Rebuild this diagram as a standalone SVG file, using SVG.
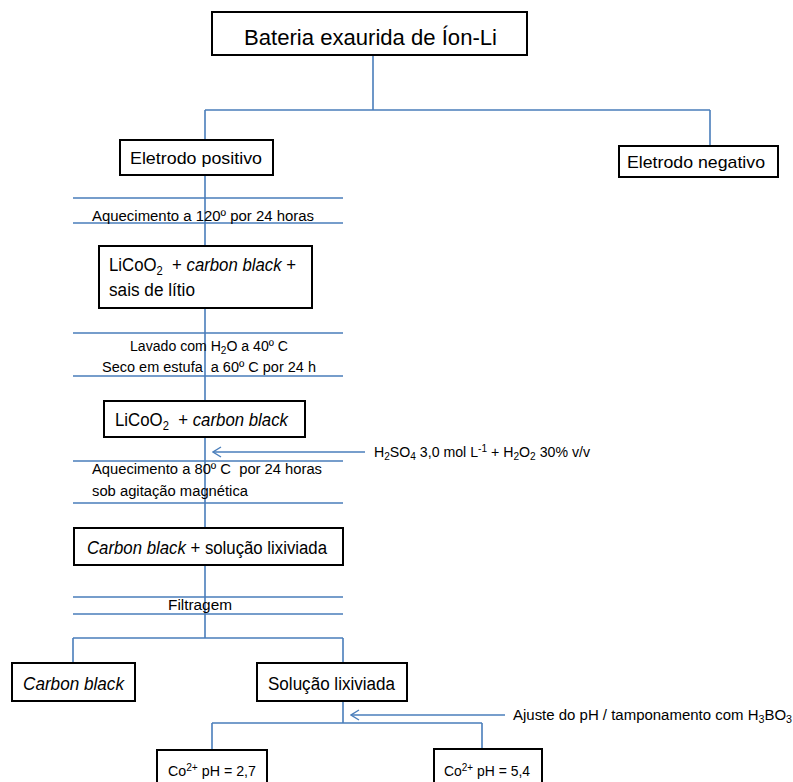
<svg xmlns="http://www.w3.org/2000/svg" width="793" height="782" viewBox="0 0 793 782">
<defs>
<style>
.bg{fill:#fff}
.box{fill:#fff;stroke:#000;stroke-width:2}
.ln{fill:none;stroke:#4a7ebb;stroke-width:1.6}
.t{font-family:"Liberation Sans",Arial,sans-serif;fill:#000}
.big{font-size:22px}
.mid{font-size:17px}
.lg{font-size:18px}
.sm{font-size:14px}
.it{font-style:italic}
</style>
<marker id="arr" viewBox="0 0 10 12" refX="9" refY="6" markerWidth="10" markerHeight="12" markerUnits="userSpaceOnUse" orient="auto">
<path d="M1,1 L9,6 L1,11" fill="none" stroke="#4a7ebb" stroke-width="1.4"/>
</marker>
</defs>
<rect class="bg" x="0" y="0" width="793" height="782"/>

<g id="connectors">
<path class="ln" d="M373,55 V110 M205,110 H710 M205,110 V140 M710,110 V146"/>
<path class="ln" d="M205,175 V246 M205,308 V401 M205,437 V528 M205,565 V638"/>
<path class="ln" d="M73,638 H343 M73,638 V663 M343,638 V663"/>
<path class="ln" d="M343,701 V723 M212,723 H482 M212,723 V750 M482,723 V749"/>
<line class="ln" x1="365" y1="452" x2="213" y2="452" marker-end="url(#arr)"/>
<line class="ln" x1="505" y1="715" x2="351" y2="715" marker-end="url(#arr)"/>
</g>

<g id="n-bateria">
<rect class="box" x="212" y="12" width="315" height="43"/>
<text class="t big" x="244" y="45" textLength="253" lengthAdjust="spacingAndGlyphs">Bateria exaurida de Íon-Li</text>
</g>

<g id="n-positivo">
<rect class="box" x="120" y="140" width="153" height="35"/>
<text class="t mid" x="130" y="164" textLength="132" lengthAdjust="spacingAndGlyphs">Eletrodo positivo</text>
</g>

<g id="n-negativo">
<rect class="box" x="619" y="146" width="159" height="31"/>
<text class="t mid" x="627" y="168" textLength="138" lengthAdjust="spacingAndGlyphs">Eletrodo negativo</text>
</g>

<g id="s-aquec120">
<path class="ln" d="M73,198 H343 M73,223 H343"/>
<text class="t sm" x="92" y="221" textLength="222" lengthAdjust="spacingAndGlyphs">Aquecimento a 120º por 24 horas</text>
</g>

<g id="n-licoo2-sais">
<rect class="box" x="99" y="246" width="213" height="62"/>
<text class="t lg" x="109" y="271" textLength="187" lengthAdjust="spacingAndGlyphs" xml:space="preserve">LiCoO<tspan font-size="12" dy="4">2</tspan><tspan dy="-4">  + </tspan><tspan class="it">carbon black</tspan> +</text>
<text class="t lg" x="109" y="296" textLength="86" lengthAdjust="spacingAndGlyphs">sais de lítio</text>
</g>

<g id="s-lavado">
<path class="ln" d="M73,333 H343 M73,376 H343"/>
<text class="t sm" x="130" y="351" textLength="158" lengthAdjust="spacingAndGlyphs">Lavado com H<tspan font-size="10" dy="3">2</tspan><tspan dy="-3">O a 40º C</tspan></text>
<text class="t sm" x="102" y="372" textLength="214" lengthAdjust="spacingAndGlyphs" xml:space="preserve">Seco em estufa  a 60º C por 24 h</text>
</g>

<g id="n-licoo2-cb">
<rect class="box" x="104" y="401" width="201" height="36"/>
<text class="t lg" x="115" y="426" textLength="173" lengthAdjust="spacingAndGlyphs" xml:space="preserve">LiCoO<tspan font-size="12" dy="4">2</tspan><tspan dy="-4">  + </tspan><tspan class="it">carbon black</tspan></text>
</g>

<g id="l-h2so4">
<text class="t sm" x="374" y="457" textLength="216" lengthAdjust="spacingAndGlyphs">H<tspan font-size="10" dy="3">2</tspan><tspan dy="-3">SO</tspan><tspan font-size="10" dy="3">4</tspan><tspan dy="-3"> 3,0 mol L</tspan><tspan font-size="10" dy="-5">-1</tspan><tspan dy="5"> + H</tspan><tspan font-size="10" dy="3">2</tspan><tspan dy="-3">O</tspan><tspan font-size="10" dy="3">2</tspan><tspan dy="-3"> 30% v/v</tspan></text>
</g>

<g id="s-aquec80">
<path class="ln" d="M73,461 H343 M73,503 H343"/>
<text class="t sm" x="92" y="474" textLength="230" lengthAdjust="spacingAndGlyphs" xml:space="preserve">Aquecimento a 80º C  por 24 horas</text>
<text class="t sm" x="92" y="496" textLength="156" lengthAdjust="spacingAndGlyphs">sob agitação magnética</text>
</g>

<g id="n-cb-solucao">
<rect class="box" x="74" y="528" width="269" height="37"/>
<text class="t lg" x="87" y="554" textLength="240" lengthAdjust="spacingAndGlyphs"><tspan class="it">Carbon black</tspan> + solução lixiviada</text>
</g>

<g id="s-filtragem">
<path class="ln" d="M73,597 H343 M73,614 H343"/>
<text class="t sm" x="168" y="610" textLength="64" lengthAdjust="spacingAndGlyphs">Filtragem</text>
</g>

<g id="n-carbon-black">
<rect class="box" x="12" y="663" width="123" height="38"/>
<text class="t lg it" x="23" y="690" textLength="101" lengthAdjust="spacingAndGlyphs">Carbon black</text>
</g>

<g id="n-solucao">
<rect class="box" x="257" y="663" width="150" height="38"/>
<text class="t lg" x="268" y="690" textLength="127" lengthAdjust="spacingAndGlyphs">Solução lixiviada</text>
</g>

<g id="l-ajuste">
<text class="t sm" x="513" y="720" textLength="279" lengthAdjust="spacingAndGlyphs">Ajuste do pH / tamponamento com H<tspan font-size="10" dy="3">3</tspan><tspan dy="-3">BO</tspan><tspan font-size="10" dy="3">3</tspan></text>
</g>

<g id="n-co27">
<rect class="box" x="157" y="750" width="110" height="40"/>
<text class="t sm" x="168" y="776" textLength="88" lengthAdjust="spacingAndGlyphs">Co<tspan font-size="10" dy="-5">2+</tspan><tspan dy="5"> pH = 2,7</tspan></text>
</g>

<g id="n-co54">
<rect class="box" x="434" y="749" width="108" height="40"/>
<text class="t sm" x="444" y="776" textLength="86" lengthAdjust="spacingAndGlyphs">Co<tspan font-size="10" dy="-5">2+</tspan><tspan dy="5"> pH = 5,4</tspan></text>
</g>
</svg>
